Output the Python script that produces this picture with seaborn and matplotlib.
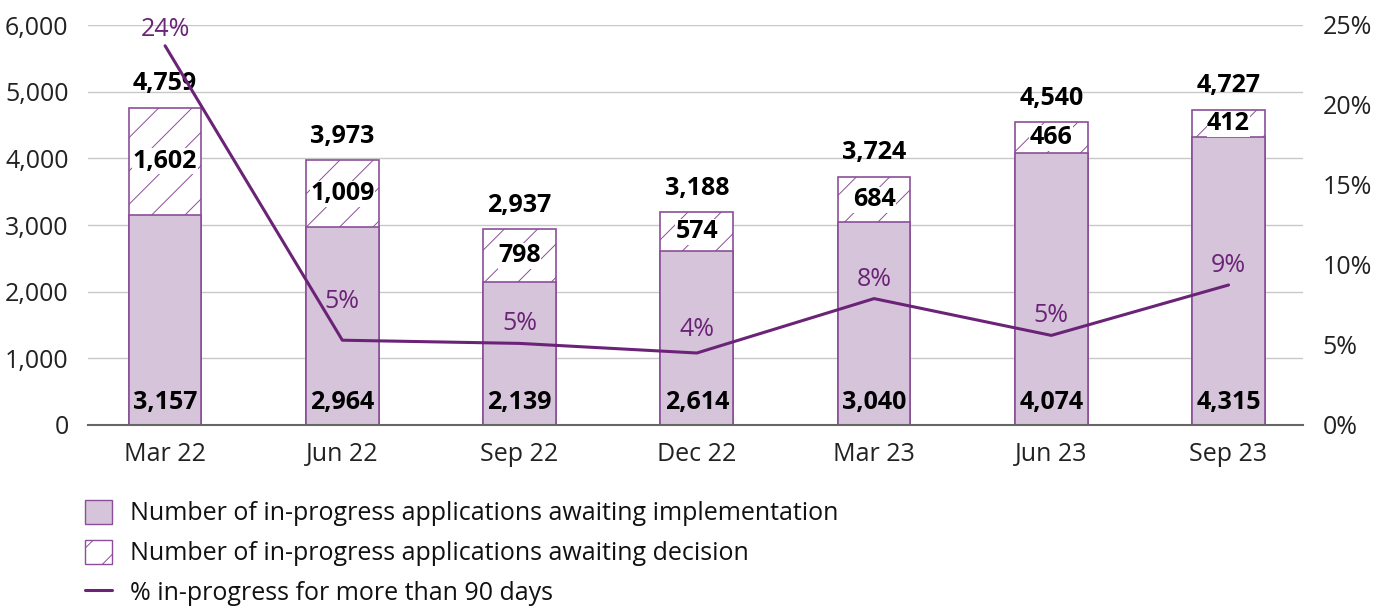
import numpy as np
import pandas as pd
import seaborn as sns
import matplotlib.pyplot as plt
from matplotlib.patches import Patch
from matplotlib.lines import Line2D

sns.set_theme(style="white")
plt.rcParams['font.family'] = ['Open Sans', 'DejaVu Sans']
plt.rcParams['hatch.linewidth'] = 0.7

# Data
quarters = ["Mar 22", "Jun 22", "Sep 22", "Dec 22", "Mar 23", "Jun 23", "Sep 23"]
implementation = [3157, 2964, 2139, 2614, 3040, 4074, 4315]
decision = [1602, 1009, 798, 574, 684, 466, 412]
totals = [4759, 3973, 2937, 3188, 3724, 4540, 4727]
pct_over_90 = [23.7, 5.3, 5.1, 4.5, 7.9, 5.6, 8.75]
pct_labels = ["24%", "5%", "5%", "4%", "8%", "5%", "9%"]
pct_label_offset = [1.0, 2.4, 1.25, 1.45, 1.2, 1.25, 1.2]

purple = "#6b2377"
edge = "#8a4f98"
fill = "#d6c5da"
grid_c = "#c8c8c8"
fs = 18

df = pd.DataFrame({"quarter": quarters, "impl": implementation,
                   "total": totals})

fig = plt.figure(figsize=(13.84, 6.12), dpi=100)
ax = fig.add_axes([88 / 1384, 1 - 425 / 612, (1303 - 88) / 1384, 400 / 612])

# hatched total bar, then solid implementation bar on top of it
sns.barplot(data=df, x="quarter", y="total", ax=ax, width=0.41,
            color="white", edgecolor=edge, linewidth=1.2, hatch="/", saturation=1)
sns.barplot(data=df, x="quarter", y="impl", ax=ax, width=0.41,
            color=fill, edgecolor=edge, linewidth=1.2, saturation=1)

ax.set_ylim(0, 6000)
ax.set_xlim(-0.435, 6.42)
ax.set_yticks(range(0, 6001, 1000))
ax.set_yticklabels([f"{v:,}" for v in range(0, 6001, 1000)])
ax.set_xlabel("")
ax.set_ylabel("")
ax.yaxis.grid(True, color=grid_c, linewidth=1)
ax.set_axisbelow(True)
for s in ["left", "right", "top"]:
    ax.spines[s].set_visible(False)
ax.spines["bottom"].set_color("#666666")
ax.spines["bottom"].set_linewidth(1.5)
ax.tick_params(axis="both", length=0, labelsize=fs, colors="#222222", pad=14)
ax.tick_params(axis="x", pad=12)

for i in range(len(quarters)):
    ax.text(i, 345, f"{implementation[i]:,}", ha="center", va="center",
            fontsize=fs, fontweight="bold", color="black")
    ax.text(i, implementation[i] + decision[i] / 2, f"{decision[i]:,}",
            ha="center", va="center", fontsize=fs, fontweight="bold", color="black",
            bbox=dict(facecolor="white", edgecolor="none", pad=0.3))
    ax.text(i, totals[i] + 360, f"{totals[i]:,}", ha="center", va="center",
            fontsize=fs, fontweight="bold", color="black")

# line on secondary axis
ax2 = ax.twinx()
sns.lineplot(x=np.arange(len(quarters)), y=pct_over_90, ax=ax2,
             color=purple, linewidth=2.2)
ax2.set_ylim(0, 25)
ax2.set_yticks(range(0, 26, 5))
ax2.set_yticklabels([f"{v}%" for v in range(0, 26, 5)])
for s in ["left", "right", "top", "bottom"]:
    ax2.spines[s].set_visible(False)
ax2.tick_params(axis="y", length=0, labelsize=fs, colors="#222222", pad=14)
ax2.grid(False)
for i, (v, lab) in enumerate(zip(pct_over_90, pct_labels)):
    ax2.text(i, v + pct_label_offset[i], lab, ha="center", va="center",
             fontsize=fs, color=purple)

handles = [
    Patch(facecolor=fill, edgecolor=edge, label="Number of in-progress applications awaiting implementation"),
    Patch(facecolor="white", edgecolor=edge, hatch="/", label="Number of in-progress applications awaiting decision"),
    Line2D([0], [0], color=purple, linewidth=2.2, label="% in-progress for more than 90 days"),
]
fig.legend(handles=handles, loc="upper left", bbox_to_anchor=(62 / 1384, 1 - 477 / 612),
           frameon=False, fontsize=fs, handlelength=1.1, handleheight=1.1,
           labelspacing=0.55, handletextpad=0.7, labelcolor="#111111")

fig.savefig("out.png", dpi=100)
